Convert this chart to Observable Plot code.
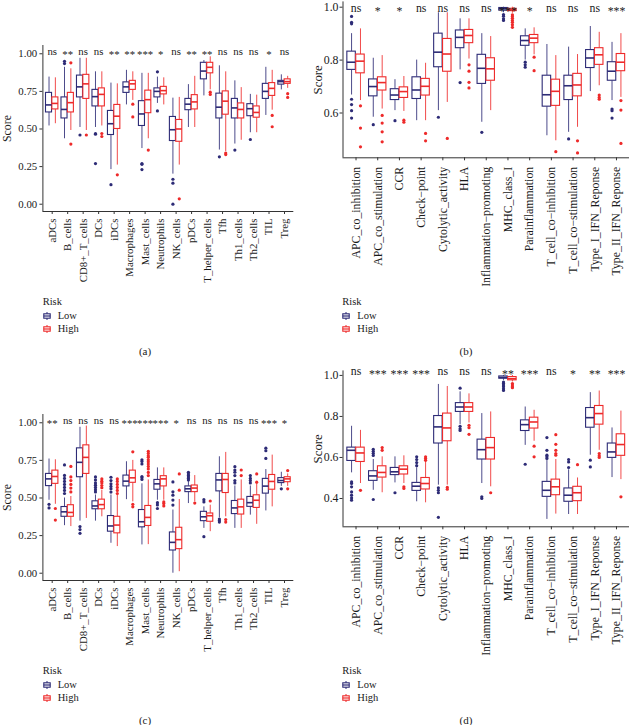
<!DOCTYPE html>
<html>
<head>
<meta charset="utf-8">
<script src="https://cdn.jsdelivr.net/npm/d3@7"></script>
<script src="https://cdn.jsdelivr.net/npm/@observablehq/plot@0.6"></script>
<style>
  body { margin: 0; background: #fff; }
  #page { position: relative; width: 630px; height: 725px; overflow: hidden; font-family: "Liberation Serif", serif; color: #1a1a1a; }
  .pane { position: absolute; }
  .legend { position: absolute; font-size: 10.5px; line-height: 13.7px; }
  .legend .row { display: flex; align-items: center; height: 13.7px; white-space: nowrap; }
  .legend svg { margin-right: 7px; }
  .cap { position: absolute; font-size: 11px; transform: translate(-50%, -50%); }
</style>
</head>
<body>
<div id="page"></div>
<script>
// ---------------- data ----------------
const GROUPS = ["Low", "High"];
const LOW_COLOR = "#2d2b76";
const HIGH_COLOR = "#ee2a2a";

// Panel (a): immune cells, cohort 1
const catsA = ["aDCs","B_cells","CD8+_T_cells","DCs","iDCs","Macrophages","Mast_cells","Neutrophils","NK_cells","pDCs","T_helper_cells","Tfh","Th1_cells","Th2_cells","TIL","Treg"];
const sigA = ["ns","**","ns","ns","**","**","***","*","ns","**","**","ns","ns","ns","*","ns"];
// [whisker low, q1, median, q3, whisker high]
const lowA = [
  [0.52,0.61,0.66,0.74,0.845],[0.435,0.57,0.63,0.71,0.91],[0.51,0.71,0.78,0.855,0.97],[0.51,0.65,0.715,0.76,0.88],
  [0.23,0.46,0.535,0.62,0.805],[0.66,0.74,0.78,0.81,0.89],[0.37,0.52,0.60,0.685,0.87],[0.67,0.71,0.75,0.77,0.845],
  [0.2,0.42,0.495,0.58,0.705],[0.51,0.625,0.665,0.70,0.795],[0.72,0.83,0.885,0.94,0.955],[0.36,0.57,0.645,0.735,0.92],
  [0.40,0.57,0.64,0.70,0.82],[0.475,0.585,0.635,0.665,0.73],[0.59,0.70,0.75,0.80,0.91],[0.76,0.795,0.815,0.82,0.86]
];
const highA = [
  [0.535,0.63,0.67,0.71,0.84],[0.49,0.61,0.675,0.74,0.90],[0.49,0.70,0.80,0.86,0.97],[0.52,0.65,0.73,0.77,0.88],
  [0.26,0.50,0.585,0.66,0.80],[0.69,0.76,0.80,0.82,0.88],[0.435,0.605,0.695,0.755,0.87],[0.66,0.73,0.755,0.78,0.84],
  [0.26,0.415,0.50,0.56,0.71],[0.51,0.63,0.68,0.725,0.85],[0.76,0.87,0.91,0.94,0.98],[0.35,0.595,0.685,0.75,0.88],
  [0.425,0.57,0.63,0.67,0.775],[0.475,0.575,0.61,0.65,0.725],[0.625,0.72,0.77,0.805,0.89],[0.77,0.80,0.815,0.83,0.85]
];
const outLowA = [[],[0.95,0.935],[0.46],[0.47,0.465,0.27],[0.13],[],[0.27,0.265,0.23],[0.88,0.62],[0.166,0.14,0.0],[],[],[0.315],[0.36],[0.43],[],[]];
const outHighA = [[],[0.94,0.40],[0.46],[0.47,0.45],[0.195],[0.665,0.58],[0.36],[],[0.036],[],[0.745,0.73],[0.34,0.33],[],[],[0.59,0.515],[0.735,0.71]];

// Panel (b): immune functions, cohort 1
const catsB = ["APC_co_inhibition","APC_co_stimulation","CCR","Check\u2212point","Cytolytic_activity","HLA","Inflammation\u2212promoting","MHC_class_I","Parainflammation","T_cell_co\u2212inhibition","T_cell_co\u2212stimulation","Type_I_IFN_Reponse","Type_II_IFN_Reponse"];
const sigB = ["ns","*","*","ns","ns","ns","ns","***","*","ns","ns","ns","***"];
const lowB = [
  [0.668,0.763,0.792,0.832,0.90],[0.584,0.663,0.70,0.727,0.807],[0.609,0.649,0.668,0.69,0.726],[0.571,0.653,0.687,0.735,0.80],
  [0.609,0.773,0.83,0.90,0.979],[0.763,0.845,0.886,0.912,0.956],[0.565,0.71,0.769,0.82,0.90],[0.979,0.987,0.994,0.997,1.0],
  [0.80,0.854,0.874,0.89,0.918],[0.514,0.624,0.669,0.741,0.859],[0.527,0.649,0.703,0.741,0.849],[0.681,0.77,0.808,0.838,0.927],
  [0.647,0.722,0.758,0.792,0.867]
];
const highB = [
  [0.647,0.75,0.796,0.821,0.918],[0.615,0.685,0.715,0.735,0.817],[0.606,0.657,0.681,0.697,0.738],[0.571,0.666,0.701,0.729,0.788],
  [0.64,0.756,0.823,0.88,0.979],[0.804,0.864,0.893,0.914,0.956],[0.609,0.722,0.767,0.807,0.889],[0.977,0.985,0.99,0.994,1.0],
  [0.82,0.864,0.883,0.895,0.922],[0.495,0.627,0.682,0.726,0.817],[0.546,0.663,0.706,0.748,0.821],[0.703,0.782,0.82,0.845,0.905],
  [0.659,0.758,0.792,0.823,0.90]
];
const outLowB = [[0.965,0.943,0.937,0.652,0.632,0.609,0.581],[0.556],[0.571],[],[0.584],[0.715],[0.527],[0.972,0.966,0.956,0.95],[0.792,0.782,0.773],[],[0.502],[],[0.615,0.609,0.581]];
const outHighB = [[0.627,0.543,0.472],[0.591,0.562,0.529,0.491],[0.573,0.565],[0.523,0.495],[0.504],[0.782,0.758,0.716,0.695],[],[0.971,0.965,0.958,0.95,0.943,0.934,0.924],[0.811,0.76],[0.454],[0.495,0.449],[0.668,0.659,0.652],[0.647,0.611,0.485]];

// Panel (c): immune cells, cohort 2
const catsC = catsA;
const sigC = ["**","ns","ns","ns","ns","***","***","***","*","ns","ns","ns","ns","ns","***","*"];
const lowC = [
  [0.485,0.579,0.627,0.66,0.759],[0.316,0.375,0.408,0.44,0.50],[0.346,0.638,0.737,0.83,0.97],[0.346,0.425,0.447,0.478,0.52],
  [0.199,0.276,0.314,0.38,0.52],[0.489,0.577,0.612,0.649,0.741],[0.188,0.305,0.342,0.42,0.594],[0.485,0.555,0.594,0.62,0.70],
  [0.0,0.151,0.205,0.271,0.42],[0.463,0.539,0.561,0.577,0.61],[0.298,0.346,0.375,0.408,0.441],[0.368,0.544,0.62,0.66,0.774],
  [0.298,0.393,0.434,0.48,0.58],[0.386,0.441,0.469,0.507,0.58],[0.414,0.529,0.579,0.627,0.689],[0.577,0.599,0.616,0.632,0.671]
];
const highC = [
  [0.458,0.594,0.643,0.682,0.754],[0.31,0.375,0.404,0.452,0.51],[0.364,0.66,0.77,0.85,0.978],[0.375,0.425,0.456,0.489,0.55],
  [0.177,0.265,0.32,0.375,0.52],[0.474,0.601,0.634,0.682,0.75],[0.19,0.314,0.371,0.447,0.62],[0.485,0.577,0.627,0.645,0.70],
  [0.01,0.16,0.223,0.302,0.49],[0.474,0.539,0.566,0.583,0.649],[0.276,0.342,0.382,0.397,0.452],[0.375,0.533,0.623,0.66,0.803],
  [0.298,0.39,0.441,0.489,0.62],[0.325,0.434,0.485,0.518,0.60],[0.441,0.555,0.61,0.653,0.785],[0.577,0.605,0.627,0.638,0.66]
];
const outLowC = [[0.458,0.434],[0.72,0.65,0.63,0.61,0.59,0.57,0.55,0.53],[0.31,0.29,0.265],[0.64,0.62,0.60,0.585,0.57,0.555,0.54],[0.638,0.616,0.594,0.577,0.561,0.539],[],[0.754,0.743,0.726,0.643,0.635,0.623],[0.469,0.454,0.43],[0.607,0.541,0.519,0.486,0.453],[0.671,0.66,0.649,0.64,0.63,0.62],[0.489,0.474,0.243],[0.36,0.35,0.34],[0.708,0.686,0.671,0.649,0.616,0.60],[0.649,0.63,0.616,0.60],[0.831,0.814,0.763],[0.561]];
const outHighC = [[0.43,0.353],[0.71,0.64,0.616,0.59,0.566,0.54],[],[0.627,0.612,0.60,0.583,0.568],[0.627,0.61,0.59,0.57,0.55,0.53],[0.807,0.458,0.441],[0.81,0.796,0.78,0.77,0.754,0.741,0.726,0.71,0.693,0.67,0.649],[0.474,0.463,0.447],[0.66,0.552],[0.466],[0.48],[0.357,0.34],[0.686,0.649],[0.66,0.605],[],[0.682,0.561]];

// Panel (d): immune functions, cohort 2
const catsD = catsB;
const sigD = ["ns","***","***","***","ns","ns","ns","**","***","ns","*","**","***"];
const lowD = [
  [0.525,0.583,0.635,0.648,0.752],[0.44,0.486,0.51,0.533,0.59],[0.476,0.514,0.53,0.549,0.603],[0.384,0.437,0.46,0.476,0.55],
  [0.465,0.668,0.749,0.802,0.956],[0.76,0.822,0.846,0.865,0.92],[0.473,0.59,0.638,0.687,0.814],[0.976,0.984,0.99,0.995,1.0],
  [0.659,0.729,0.76,0.781,0.846],[0.298,0.408,0.44,0.481,0.585],[0.322,0.384,0.416,0.449,0.54],[0.611,0.745,0.794,0.841,0.916],
  [0.502,0.598,0.627,0.668,0.744]
];
const highD = [
  [0.473,0.578,0.622,0.648,0.732],[0.428,0.502,0.527,0.557,0.603],[0.473,0.517,0.543,0.557,0.608],[0.379,0.444,0.473,0.50,0.58],
  [0.465,0.679,0.744,0.814,0.946],[0.768,0.822,0.846,0.865,0.91],[0.457,0.59,0.648,0.695,0.822],[0.968,0.976,0.984,0.992,1.0],
  [0.679,0.741,0.773,0.794,0.83],[0.324,0.416,0.457,0.492,0.59],[0.322,0.387,0.428,0.457,0.50],[0.635,0.76,0.814,0.851,0.924],
  [0.492,0.608,0.663,0.713,0.826]
];
const outLowD = [[0.481,0.473,0.457,0.432,0.416,0.403,0.392],[0.64,0.63,0.62,0.61,0.395],[0.428],[0.603,0.59,0.575,0.56],[0.452,0.44,0.428,0.308],[0.938,0.752,0.74,0.732],[0.408,0.40],[0.968,0.96,0.953,0.945,0.935,0.927],[0.567],[0.697,0.635,0.611,0.603,0.595],[0.59,0.578,0.551],[0.587,0.554],[]];
const outHighD = [[0.44],[0.648,0.635],[0.457,0.449],[0.603,0.595,0.586],[0.454,0.445],[0.757,0.745,0.713],[0.428],[0.96,0.953,0.945,0.94],[0.655,0.603],[0.711,0.664,0.635,0.619,0.611],[0.565],[0.619,0.608,0.60],[0.408]];

const ticksAC = [0, 0.25, 0.5, 0.75, 1.0];
const ticksB = [0.6, 0.8, 1.0];
const ticksD = [0.4, 0.6, 0.8, 1.0];

// ---------------- drawing ----------------
function makePanel(P) {
  const n = P.cats.length;
  const rows = [];
  P.cats.forEach((c, i) => {
    GROUPS.forEach(g => {
      const s = (g === "Low" ? P.low : P.high)[i];
      const o = (g === "Low" ? P.outLow : P.outHigh)[i];
      rows.push({i, g, lo: s[0], q1: s[1], med: s[2], q3: s[3], hi: s[4], out: o});
    });
  });
  const DODGE = 0.205, HALF = 0.195;
  const cx = r => r.i + (r.g === "Low" ? -DODGE : DODGE);
  const pts = rows.flatMap(r => r.out.map(v => ({i: r.i, g: r.g, v})));
  const xDomain = [-0.6, n - 0.4];
  return Plot.plot({
    width: P.width, height: P.height,
    marginLeft: P.ml, marginRight: P.mr, marginTop: P.mt, marginBottom: P.mb,
    style: {fontFamily: "'Liberation Serif', serif", fontSize: P.fs + "px", color: "#1a1a1a", background: "none", overflow: "visible"},
    x: {domain: xDomain},
    y: {domain: P.yDomain},
    color: {domain: GROUPS, range: [LOW_COLOR, HIGH_COLOR]},
    marks: [
      Plot.ruleX(rows, {x: cx, y1: "lo", y2: "q1", stroke: "g", strokeWidth: 0.85}),
      Plot.ruleX(rows, {x: cx, y1: "q3", y2: "hi", stroke: "g", strokeWidth: 0.85}),
      Plot.rect(rows, {x1: r => cx(r) - HALF, x2: r => cx(r) + HALF, y1: "q1", y2: "q3", fill: "white", stroke: "g", strokeWidth: 1.1}),
      Plot.ruleY(rows, {y: "med", x1: r => cx(r) - HALF, x2: r => cx(r) + HALF, stroke: "g", strokeWidth: 1.6}),
      Plot.dot(pts, {x: cx, y: "v", r: 1.6, fill: "g", stroke: "none"}),
      Plot.text(P.sig, {x: (d, i) => i, y: () => P.sigY, text: d => d, filter: d => d === "ns", fill: "#1a1a1a"}),
      Plot.text(P.sig, {x: (d, i) => i, y: () => P.sigY, text: d => d, filter: d => d !== "ns", dy: 3, fill: "#1a1a1a"}),
      Plot.ruleX([xDomain[0]], {stroke: "#333", strokeWidth: 1}),
      Plot.ruleY([P.yDomain[0]], {stroke: "#333", strokeWidth: 1}),
      Plot.axisY({ticks: P.yTicks, tickFormat: P.fmt, tickSize: 3, tickPadding: P.ytp, label: null, stroke: "#333"}),
      Plot.axisY({ticks: [], label: "Score", labelAnchor: "center", labelOffset: P.lo, labelArrow: "none", fontSize: P.fs + 1}),
      Plot.axisX({ticks: d3.range(n), tickFormat: i => P.cats[i], tickRotate: -90, tickSize: 3, tickPadding: P.xtp, label: null, stroke: "#333"})
    ]
  });
}

const page = document.getElementById("page");
function place(node, left, top) {
  const d = document.createElement("div");
  d.className = "pane";
  d.style.left = left + "px";
  d.style.top = top + "px";
  d.appendChild(node);
  page.appendChild(d);
}
function icon(color) {
  return `<svg width="8" height="8" viewBox="0 0 8 8"><line x1="4" y1="0" x2="4" y2="8" stroke="${color}" stroke-width="1"/><rect x="0.8" y="1.8" width="6.4" height="4.4" fill="white" stroke="${color}" stroke-width="1.1"/><line x1="0.8" y1="4" x2="7.2" y2="4" stroke="${color}" stroke-width="1.2"/></svg>`;
}
function legend(left, top) {
  const d = document.createElement("div");
  d.className = "legend";
  d.style.left = left + "px";
  d.style.top = top + "px";
  d.innerHTML = `<div class="row">Risk</div>` +
    GROUPS.map(g => `<div class="row">${icon(g === "Low" ? LOW_COLOR : HIGH_COLOR)}${g}</div>`).join("");
  page.appendChild(d);
}
function caption(text, x, y) {
  const d = document.createElement("div");
  d.className = "cap";
  d.style.left = x + "px";
  d.style.top = y + "px";
  d.textContent = text;
  page.appendChild(d);
}

const fmt2 = d3.format(".2f"), fmt1 = d3.format(".1f");
const geomAC = {width: 310, height: 290, ml: 42.4, mr: 16.7, mt: 45, mb: 79, fs: 10.8, ytp: 2.7, xtp: 4, lo: 40, fmt: fmt2, yDomain: [-0.0485, 1.055], yTicks: ticksAC, sigY: 1.013};
const geomBD = {width: 320, height: 290, ml: 32.5, mr: 1, mt: 1.4, mb: 132.7, fs: 11.8, ytp: 1.5, xtp: 6, lo: 30};

place(makePanel({...geomAC, cats: catsA, sig: sigA, low: lowA, high: highA, outLow: outLowA, outHigh: outHighA}), 0, 0);
place(makePanel({...geomBD, cats: catsB, sig: sigB, low: lowB, high: highB, outLow: outLowB, outHigh: outHighB, yDomain: [0.4307, 1.02], yTicks: ticksB, fmt: fmt1, sigY: 0.998}), 310, 0);
place(makePanel({...geomAC, cats: catsC, sig: sigC, low: lowC, high: highC, outLow: outLowC, outHigh: outHighC}), 0, 369);
place(makePanel({...geomBD, cats: catsD, sig: sigD, low: lowD, high: highD, outLow: outLowD, outHigh: outHighD, yDomain: [0.262, 1.022], yTicks: ticksD, fmt: fmt1, sigY: 1.02}), 310, 369);

legend(42.7, 295);
legend(342.3, 295);
legend(42.7, 664);
legend(342.3, 664);
caption("(a)", 145, 351);
caption("(b)", 466, 351);
caption("(c)", 145, 720);
caption("(d)", 466, 720);
</script>
</body>
</html>
